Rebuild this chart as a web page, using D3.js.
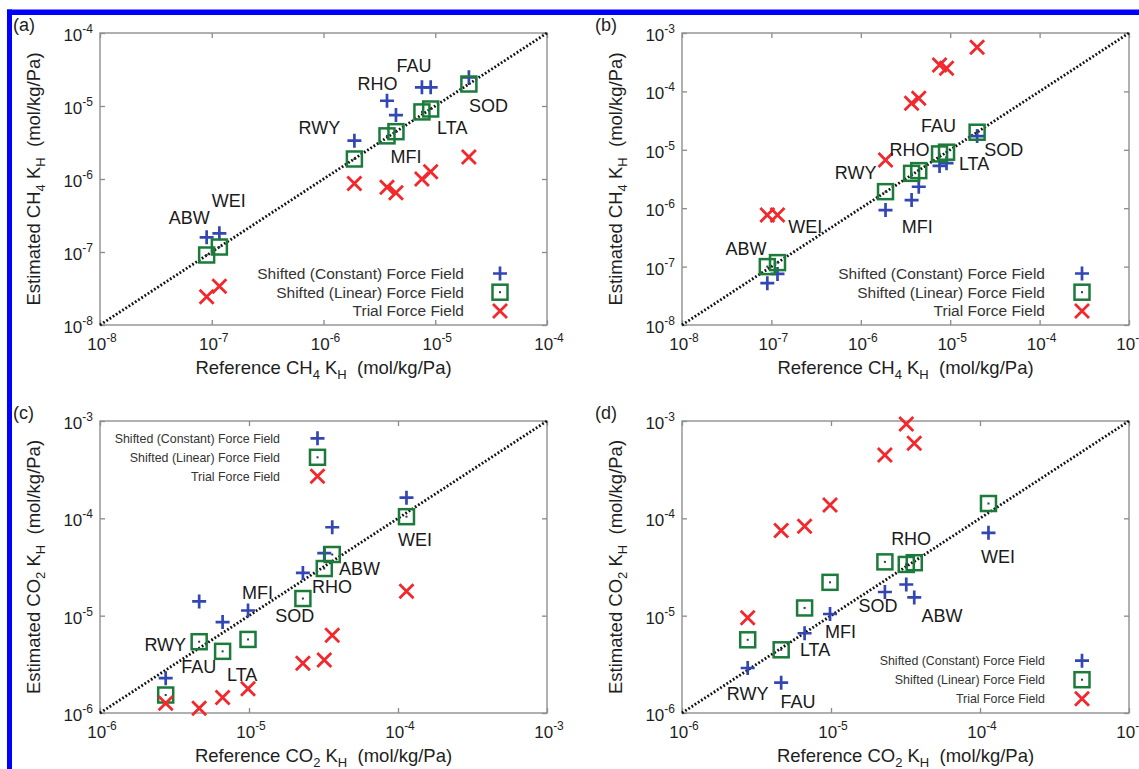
<!DOCTYPE html>
<html>
<head>
<meta charset="utf-8">
<script src="https://cdn.jsdelivr.net/npm/d3@7"></script>
<style>
  body { margin: 0; background: #fff; }
  text { font-family: "Liberation Sans", Arial, Helvetica, sans-serif; }
</style>
</head>
<body>
<svg id="fig" width="1139" height="769"></svg>
<script>
// zeolite order used by every series below
const zeolites = ["ABW", "WEI", "RWY", "RHO", "MFI", "FAU", "LTA", "SOD"];

// reference Henry coefficients (mol/kg/Pa)
const refCH4 = [9.0e-8, 1.17e-7, 1.89e-6, 3.7e-6, 4.45e-6, 7.6e-6, 9.1e-6, 2.0e-5];
const refCO2 = [3.62e-5, 1.14e-4, 2.76e-6, 3.2e-5, 9.85e-6, 4.63e-6, 6.65e-6, 2.3e-5];

// panel (a)
const constA = [1.59e-7, 1.8e-7, 3.35e-6, 1.18e-5, 7.5e-6, 1.8e-5, 1.8e-5, 2.47e-5];
const linA   = [9.1e-8, 1.17e-7, 1.88e-6, 3.9e-6, 4.45e-6, 8.3e-6, 9.1e-6, 2.0e-5];
const trialA = [2.44e-8, 3.4e-8, 8.7e-7, 7.7e-7, 6.5e-7, 1.0e-6, 1.26e-6, 2.0e-6];
// panel (b)
const constB = [5.2e-8, 7.5e-8, 9.3e-7, 1.38e-6, 2.33e-6, 5.3e-6, 5.9e-6, 1.72e-5];
const linB   = [1.0e-7, 1.17e-7, 1.92e-6, 3.95e-6, 4.4e-6, 8.5e-6, 9.1e-6, 2.0e-5];
const trialB = [7.65e-7, 7.65e-7, 6.7e-6, 6.25e-5, 7.6e-5, 2.83e-4, 2.48e-4, 5.7e-4];
// panel (c)
const constC = [8.1e-5, 1.63e-4, 2.28e-6, 4.4e-5, 1.13e-5, 1.4e-5, 8.6e-6, 2.75e-5];
const linC   = [4.25e-5, 1.04e-4, 1.53e-6, 3.05e-5, 5.7e-6, 5.4e-6, 4.3e-6, 1.5e-5];
const trialC = [6.3e-6, 1.78e-5, 1.26e-6, 3.5e-6, 1.77e-6, 1.12e-6, 1.44e-6, 3.25e-6];
// panel (d)  (WEI trial value is off the plot)
const constD = [1.54e-5, 7.1e-5, 2.9e-6, 2.09e-5, 1.04e-5, 2.05e-6, 6.6e-6, 1.75e-5];
const linD   = [3.5e-5, 1.42e-4, 5.65e-6, 3.36e-5, 2.2e-5, 4.46e-6, 1.2e-5, 3.57e-5];
const trialD = [5.9e-4, null, 9.5e-6, 9.3e-4, 1.37e-4, 7.5e-5, 8.3e-5, 4.47e-4];

// tick exponents
const ticksA = [-8, -7, -6, -5, -4];
const ticksB = [-8, -7, -6, -5, -4, -3];
const ticksCO2 = [-6, -5, -4, -3];

// name labels, [name, x, y] in data units
const labelsA = [["FAU", 6.46e-6, 3.56e-5], ["RHO", 3.05e-6, 2.05e-5], ["SOD", 2.99e-5, 1.0e-5],
  ["RWY", 9.2e-7, 5.05e-6], ["LTA", 1.42e-5, 5.05e-6], ["MFI", 5.48e-6, 2.02e-6],
  ["WEI", 1.42e-7, 5.0e-7], ["ABW", 6.3e-8, 2.96e-7]];
const labelsB = [["FAU", 7.41e-6, 2.56e-5], ["RHO", 3.51e-6, 9.93e-6], ["SOD", 3.96e-5, 9.93e-6],
  ["LTA", 1.85e-5, 5.87e-6], ["RWY", 8.77e-7, 4.12e-6], ["MFI", 4.27e-6, 4.82e-7],
  ["WEI", 2.39e-7, 4.82e-7], ["ABW", 5.2e-8, 2.06e-7]];
const labelsC = [["WEI", 1.30e-4, 6.08e-5], ["ABW", 5.51e-5, 3.05e-5], ["RHO", 3.61e-5, 2.0e-5],
  ["MFI", 1.14e-5, 1.74e-5], ["SOD", 2.03e-5, 1.0e-5], ["RWY", 2.74e-6, 5.02e-6],
  ["FAU", 4.6e-6, 3.0e-6], ["LTA", 9.0e-6, 2.5e-6]];
const labelsD = [["RHO", 3.45e-5, 6.18e-5], ["WEI", 1.32e-4, 4.03e-5], ["SOD", 2.07e-5, 1.28e-5],
  ["ABW", 5.57e-5, 1.0e-5], ["MFI", 1.16e-5, 6.89e-6], ["LTA", 7.82e-6, 4.46e-6],
  ["RWY", 2.76e-6, 1.6e-6], ["FAU", 6.0e-6, 1.31e-6]];

const legendNames = ["Shifted (Constant) Force Field", "Shifted (Linear) Force Field", "Trial Force Field"];

const W = 447, H = 292;
const BLUE = "#3246b4", GREEN = "#1c7a3b", RED = "#f2282c";

const svg = d3.select("#fig");

// blue page border (top and left only)
svg.append("rect").attr("x", 7).attr("y", 9.5).attr("width", 1132).attr("height", 5.5).attr("fill", "#0000ff");
svg.append("rect").attr("x", 7).attr("y", 9.5).attr("width", 5).attr("height", 760).attr("fill", "#0000ff");

function drawMarker(g, kind, cx, cy) {
  const m = g.append("g").attr("transform", `translate(${cx},${cy})`);
  if (kind === "plus") {
    m.append("path").attr("d", "M-7,0H7M0,-7V7")
      .attr("stroke", BLUE).attr("stroke-width", 2.7).attr("fill", "none");
  } else if (kind === "square") {
    m.append("rect").attr("x", -7.5).attr("y", -7.5).attr("width", 15).attr("height", 15)
      .attr("stroke", GREEN).attr("stroke-width", 2.5).attr("fill", "none");
    m.append("rect").attr("x", -1).attr("y", -1).attr("width", 2).attr("height", 2).attr("fill", "#1a4a2a");
  } else {
    m.append("path").attr("d", "M-7,-7L7,7M-7,7L7,-7")
      .attr("stroke", RED).attr("stroke-width", 2.8).attr("fill", "none");
  }
}

function powLabel(sel, exp, baseSize, supSize) {
  sel.append("tspan").attr("font-size", baseSize).text("10");
  sel.append("tspan").attr("font-size", supSize).attr("dy", -8).text(String(exp));
}

function drawPanel(p) {
  const g = svg.append("g").attr("transform", `translate(${p.left},${p.top})`);
  const x = d3.scaleLog().domain([Math.pow(10, p.xt[0]), Math.pow(10, p.xt[p.xt.length - 1])]).range([0, W]);
  const y = d3.scaleLog().domain([Math.pow(10, p.yt[0]), Math.pow(10, p.yt[p.yt.length - 1])]).range([H, 0]);
  const xv = p.xt.map(e => Math.pow(10, e));
  const yv = p.yt.map(e => Math.pow(10, e));

  // inward ticks on all four sides
  const tick = (axis, tr) => {
    const a = g.append("g").attr("transform", tr).call(axis.tickSize(-5).tickFormat(""));
    a.select(".domain").remove();
    a.selectAll("line").attr("stroke", "#8a8a8a").attr("stroke-width", 1.3);
  };
  tick(d3.axisBottom(x).tickValues(xv), `translate(0,${H})`);
  tick(d3.axisTop(x).tickValues(xv), "translate(0,0)");
  tick(d3.axisLeft(y).tickValues(yv), "translate(0,0)");
  tick(d3.axisRight(y).tickValues(yv), `translate(${W},0)`);

  g.append("rect").attr("width", W).attr("height", H)
    .attr("fill", "none").attr("stroke", "#8f8f8f").attr("stroke-width", 1.4);

  // tick labels
  p.xt.forEach(e => {
    const t = g.append("text").attr("x", x(Math.pow(10, e)) + 2).attr("y", H + 25)
      .attr("text-anchor", "middle").attr("fill", "#1e1e1e");
    powLabel(t, e, 17, 12);
  });
  p.yt.forEach(e => {
    const t = g.append("text").attr("x", -7).attr("y", y(Math.pow(10, e)) + 8)
      .attr("text-anchor", "end").attr("fill", "#1e1e1e");
    powLabel(t, e, 17, 12);
  });

  // axis titles
  const title = (t, word) => {
    t.append("tspan").text(word + " " + p.gas[0]);
    t.append("tspan").attr("font-size", 13).attr("dy", 5).text(p.gas[1]);
    t.append("tspan").attr("dy", -5).text("\u00a0K");
    t.append("tspan").attr("font-size", 13).attr("dy", 5).text("H");
    t.append("tspan").attr("dy", -5).text("\u00a0\u00a0(mol/kg/Pa)");
  };
  title(g.append("text").attr("x", W / 2).attr("y", H + 49).attr("text-anchor", "middle")
    .attr("font-size", 18.5).attr("fill", "#1e1e1e"), "Reference");
  title(g.append("text").attr("transform", `translate(-60,${H / 2}) rotate(-90)`).attr("text-anchor", "middle")
    .attr("font-size", 18.5).attr("fill", "#1e1e1e"), "Estimated");

  g.append("text").attr("x", -87).attr("y", -2).attr("font-size", 18).attr("fill", "#1e1e1e").text(p.name);

  // y = x reference line
  const d0 = Math.max(x.domain()[0], y.domain()[0]), d1 = Math.min(x.domain()[1], y.domain()[1]);
  g.append("line").attr("x1", x(d0)).attr("y1", y(d0)).attr("x2", x(d1)).attr("y2", y(d1))
    .attr("stroke", "#111").attr("stroke-width", 2.8).attr("stroke-dasharray", "1.8,2");

  // data
  const series = [["plus", p.cons], ["square", p.lin], ["cross", p.trial]];
  series.forEach(([kind, vals]) => {
    vals.forEach((v, i) => {
      if (v == null) return;
      drawMarker(g, kind, x(p.ref[i]), y(v));
    });
  });

  // names
  p.labels.forEach(([n, lx, ly]) => {
    g.append("text").attr("x", x(lx)).attr("y", y(ly)).attr("dy", "0.36em")
      .attr("text-anchor", "middle").attr("font-size", 18).attr("fill", "#1a1a1a").text(n);
  });

  // legend
  const lg = p.legend;
  ["plus", "square", "cross"].forEach((kind, i) => {
    const ly = lg.y + i * lg.step;
    g.append("text").attr("x", lg.tx).attr("y", ly).attr("dy", "0.36em").attr("text-anchor", "end")
      .attr("font-size", lg.size).attr("fill", "#333").text(legendNames[i]);
    drawMarker(g, kind, lg.sx, ly);
  });
}

const panels = [
  { name: "(a)", left: 100, top: 33, xt: ticksA, yt: ticksA, gas: ["CH", "4"], ref: refCH4,
    cons: constA, lin: linA, trial: trialA, labels: labelsA,
    legend: { tx: 364, sx: 400, y: 240.5, step: 18.7, size: 15.5 } },
  { name: "(b)", left: 682, top: 33, xt: ticksB, yt: ticksB, gas: ["CH", "4"], ref: refCH4,
    cons: constB, lin: linB, trial: trialB, labels: labelsB,
    legend: { tx: 363, sx: 400, y: 240.5, step: 18.7, size: 15.5 } },
  { name: "(c)", left: 100, top: 421, xt: ticksCO2, yt: ticksCO2, gas: ["CO", "2"], ref: refCO2,
    cons: constC, lin: linC, trial: trialC, labels: labelsC,
    legend: { tx: 180, sx: 217.5, y: 17.3, step: 19, size: 12.4 } },
  { name: "(d)", left: 682, top: 421, xt: ticksCO2, yt: ticksCO2, gas: ["CO", "2"], ref: refCO2,
    cons: constD, lin: linD, trial: trialD, labels: labelsD,
    legend: { tx: 363, sx: 400, y: 239.7, step: 19, size: 12.4 } }
];

panels.forEach(drawPanel);
</script>
</body>
</html>
